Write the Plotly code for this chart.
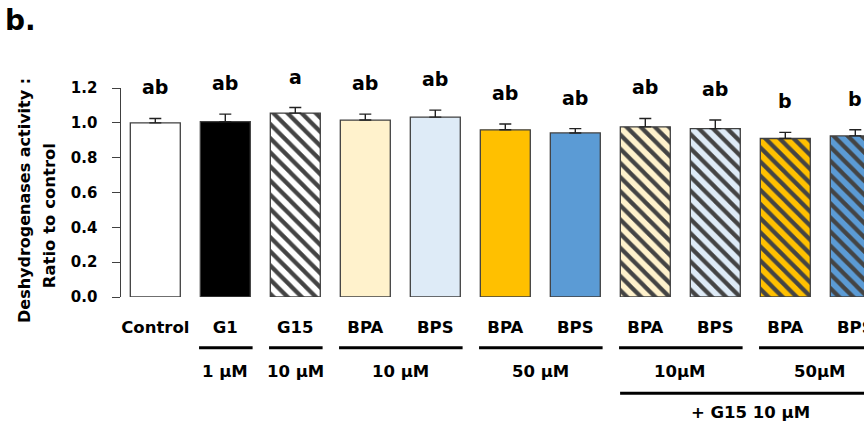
import plotly.graph_objects as go

# ---- data ----
categories = ["Control", "G1", "G15", "BPA", "BPS", "BPA", "BPS", "BPA", "BPS", "BPA", "BPS"]
values = [1.000, 1.007, 1.056, 1.016, 1.033, 0.960, 0.942, 0.977, 0.967, 0.910, 0.925]
errors = [0.025, 0.043, 0.032, 0.034, 0.040, 0.033, 0.025, 0.048, 0.049, 0.035, 0.035]
letters = ["ab", "ab", "a", "ab", "ab", "ab", "ab", "ab", "ab", "b", "b"]
colors = ["#FFFFFF", "#000000", "#FFFFFF", "#FFF2CC", "#DEEBF7", "#FFC000", "#5B9BD5",
          "#FFF2CC", "#DEEBF7", "#FFC000", "#5B9BD5"]
patterns = ["", "", "\\", "", "", "", "", "\\", "\\", "\\", "\\"]
# concentration groups: (first bar, last bar, label)
conc_groups = [(1, 1, "1 µM"), (2, 2, "10 µM"), (3, 4, "10 µM"), (5, 6, "50 µM"),
               (7, 8, "10µM"), (9, 10, "50µM")]
cotreat_group = (7, 10, "+ G15 10 µM")
y_ticks = [0.0, 0.2, 0.4, 0.6, 0.8, 1.0, 1.2]

FONT = "DejaVu Sans"
W, H = 864, 428
ML, MR, MT, MB = 121, 0, 88, 131

xpos = list(range(len(categories)))

fig = go.Figure()
fig.add_trace(go.Bar(
    x=xpos, y=values,
    width=0.714,
    marker=dict(color=colors, line=dict(color="#404040", width=1.3),
                pattern=dict(shape=patterns, fillmode="overlay", fgcolor="#000000",
                             fgopacity=1, size=10, solidity=0.42)),
    error_y=dict(type="data", array=errors, arrayminus=[0] * len(errors), symmetric=False,
                 color="#222222", thickness=1.4, width=6),
    showlegend=False,
))

ann = []
# significance letters
for i, (v, e, t) in enumerate(zip(values, errors, letters)):
    ann.append(dict(x=i, y=v + e, xref="x", yref="y", text=f"<b>{t}</b>", showarrow=False,
                    yanchor="middle", yshift=31, font=dict(family=FONT, size=19, color="#000")))

shapes = []
# concentration underlines and labels
for a, b, lab in conc_groups:
    shapes.append(dict(type="line", xref="x", yref="paper", ysizemode="pixel", yanchor=0,
                       x0=a - 0.375, x1=b + 0.39, y0=-50.7, y1=-50.7,
                       line=dict(color="#000", width=3)))
    ann.append(dict(x=(a + b) / 2, y=0, xref="x", yref="paper", yshift=-74, yanchor="middle",
                    text=f"<b>{lab}</b>", showarrow=False,
                    font=dict(family=FONT, size=16.5, color="#000")))
a, b, lab = cotreat_group
shapes.append(dict(type="line", xref="x", yref="paper", ysizemode="pixel", yanchor=0,
                   x0=a - 0.36, x1=b + 0.6, y0=-96.3, y1=-96.3,
                   line=dict(color="#000", width=3)))
ann.append(dict(x=(a + b) / 2, y=0, xref="x", yref="paper", yshift=-115.6, yanchor="middle",
                text=f"<b>{lab}</b>", showarrow=False,
                font=dict(family=FONT, size=16.5, color="#000")))

# y-axis title (two lines)
ann.append(dict(x=0, y=0, xref="paper", yref="paper", xshift=-97, yshift=96,
                xanchor="center", yanchor="middle", textangle=-90, showarrow=False,
                text="<b>Deshydrogenases activity :</b>",
                font=dict(family=FONT, size=16, color="#000")))
ann.append(dict(x=0, y=0, xref="paper", yref="paper", xshift=-71.7, yshift=81,
                xanchor="center", yanchor="middle", textangle=-90, showarrow=False,
                text="<b>Ratio to control</b>",
                font=dict(family=FONT, size=16.5, color="#000")))
# panel label
ann.append(dict(x=0, y=1, xref="paper", yref="paper", xshift=-100.2, yshift=67.5,
                xanchor="center", yanchor="middle", showarrow=False, text="<b>b.</b>",
                font=dict(family=FONT, size=28, color="#000")))

x_left = -(155.3 - ML) / 70
x_right = x_left + (W - ML - MR) / 70

fig.update_layout(
    width=W, height=H,
    margin=dict(l=ML, r=MR, t=MT, b=MB, pad=0),
    plot_bgcolor="white", paper_bgcolor="white",
    bargap=0.286,
    xaxis=dict(range=[x_left, x_right], tickmode="array", tickvals=xpos,
               ticktext=[f"<b>{c}</b>" for c in categories],
               tickfont=dict(family=FONT, size=16.5, color="#000"),
               showline=False, showgrid=False, zeroline=False, ticks="",
               ticklabelstandoff=18, ticklabeloverflow="allow", automargin=False),
    yaxis=dict(range=[0, 1.2], tickmode="array", tickvals=y_ticks,
               ticktext=[f"<b>{t:.1f}</b>" for t in y_ticks],
               tickfont=dict(family=FONT, size=15, color="#000"),
               showline=True, linecolor="#404040", linewidth=1.3,
               ticks="outside", ticklen=7.5, tickcolor="#404040", tickwidth=1.3,
               showgrid=False, zeroline=False, ticklabelstandoff=12, automargin=False),
    annotations=ann, shapes=shapes,
)

# remove the default page margin so the 864x428 figure fills the window exactly
fig.write_html("out.html", config={"displayModeBar": False},
               post_script="document.body.style.margin='0';document.body.style.overflow='hidden';")
